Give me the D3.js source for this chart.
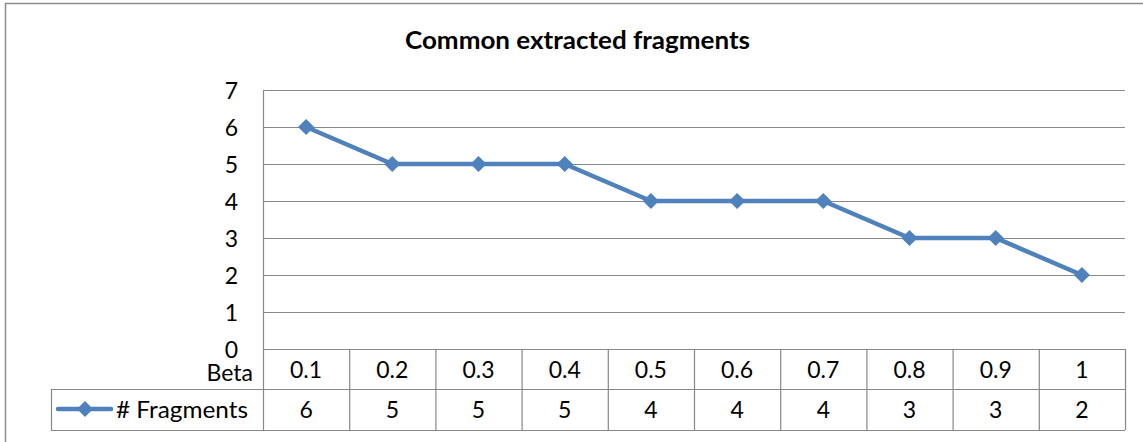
<!DOCTYPE html>
<html><head><meta charset="utf-8">
<script src="https://cdn.jsdelivr.net/npm/d3@7"></script>
<style>body{margin:0;background:#fff;} svg{display:block;}</style>
</head><body>
<svg id="c" width="1143" height="442"></svg>
<script>
const categories = ["0.1","0.2","0.3","0.4","0.5","0.6","0.7","0.8","0.9","1"];
const fragments = [6,5,5,5,4,4,4,3,3,2];
const yTicks = [0,1,2,3,4,5,6,7];
const seriesName = "# Fragments";
const axisTitle = "Beta";
const chartTitle = "Common extracted fragments";

const svg = d3.select("#c");
const font = "Lato, 'Open Sans', sans-serif";
const grid = "#888888";
const blue = "#4F81BD";
const L = 263, R = 1125, T = 90, B = 349;
const row1 = 389, row2 = 430, legL = 51;
const fs = 23;

// outer border (chart area, cropped on right/bottom)
svg.append("path").attr("d", `M5.5,445 L5.5,3.5 L1150,3.5`).attr("fill","none").attr("stroke","#8c8c8c").attr("stroke-width",1.5);

svg.append("text").attr("x",405).attr("y",49)
  .attr("font-family",font).attr("font-weight","bold").attr("font-size",24)
  .attr("textLength",345).attr("lengthAdjust","spacingAndGlyphs").text(chartTitle);

const x = d3.scaleBand().domain(categories).range([L,R]);
const y = d3.scaleLinear().domain([0,7]).range([B,T]);

// gridlines
svg.append("g").selectAll("line").data(yTicks).join("line")
  .attr("x1",L).attr("x2",R).attr("y1",d=>y(d)+0.5).attr("y2",d=>y(d)+0.5)
  .attr("stroke",grid).attr("stroke-width",1.2);
svg.append("line").attr("x1",L+0.5).attr("x2",L+0.5).attr("y1",T).attr("y2",row2).attr("stroke",grid).attr("stroke-width",1.2);

// y tick labels
svg.append("g").selectAll("text").data(yTicks).join("text")
  .attr("x",238).attr("y",d=>y(d)+8.5).attr("text-anchor","end")
  .attr("font-family",font).attr("font-size",fs).text(d=>d);

// table
const tg = svg.append("g").attr("stroke",grid).attr("stroke-width",1.2).attr("fill","none");
tg.append("line").attr("x1",L).attr("x2",R).attr("y1",B+0.5).attr("y2",B+0.5);
tg.append("line").attr("x1",legL).attr("x2",R).attr("y1",row1+0.5).attr("y2",row1+0.5);
tg.append("line").attr("x1",legL).attr("x2",R).attr("y1",row2+0.5).attr("y2",row2+0.5);
tg.append("line").attr("x1",legL+0.5).attr("x2",legL+0.5).attr("y1",row1).attr("y2",row2);
tg.selectAll("line.v").data(categories).join("line").attr("class","v")
  .attr("x1",d=>x(d)+x.bandwidth()+0.5).attr("x2",d=>x(d)+x.bandwidth()+0.5).attr("y1",B).attr("y2",row2);

svg.append("g").selectAll("text").data(categories).join("text")
  .attr("x",d=>x(d)+x.bandwidth()/2).attr("y",377.5).attr("text-anchor","middle")
  .attr("font-family",font).attr("font-size",fs).text(d=>d);
svg.append("g").selectAll("text").data(fragments).join("text")
  .attr("x",(d,i)=>x(categories[i])+x.bandwidth()/2).attr("y",417.5).attr("text-anchor","middle")
  .attr("font-family",font).attr("font-size",fs).text(d=>d);

svg.append("text").attr("x",253).attr("y",380.5).attr("text-anchor","end")
  .attr("font-family",font).attr("font-size",fs).text(axisTitle);

// legend
const ly = 409;
svg.append("line").attr("x1",58).attr("x2",111).attr("y1",ly).attr("y2",ly).attr("stroke",blue).attr("stroke-width",4.5).attr("stroke-linecap","round");
const diamond = d3.symbol().type(d3.symbolDiamond2).size(165);
svg.append("path").attr("d",diamond()).attr("transform",`translate(85,${ly})`).attr("fill",blue);
svg.append("text").attr("x",116).attr("y",417.5).attr("font-family",font).attr("font-size",fs)
  .attr("textLength",132).attr("lengthAdjust","spacingAndGlyphs").text(seriesName);

// line
const line = d3.line().x((d,i)=>x(categories[i])+x.bandwidth()/2).y(d=>y(d));
svg.append("path").datum(fragments).attr("d",line).attr("fill","none").attr("stroke",blue).attr("stroke-width",4.5).attr("stroke-linejoin","round");
svg.append("g").selectAll("path").data(fragments).join("path")
  .attr("d",diamond()).attr("transform",(d,i)=>`translate(${x(categories[i])+x.bandwidth()/2},${y(d)})`).attr("fill",blue);
</script>
</body></html>
